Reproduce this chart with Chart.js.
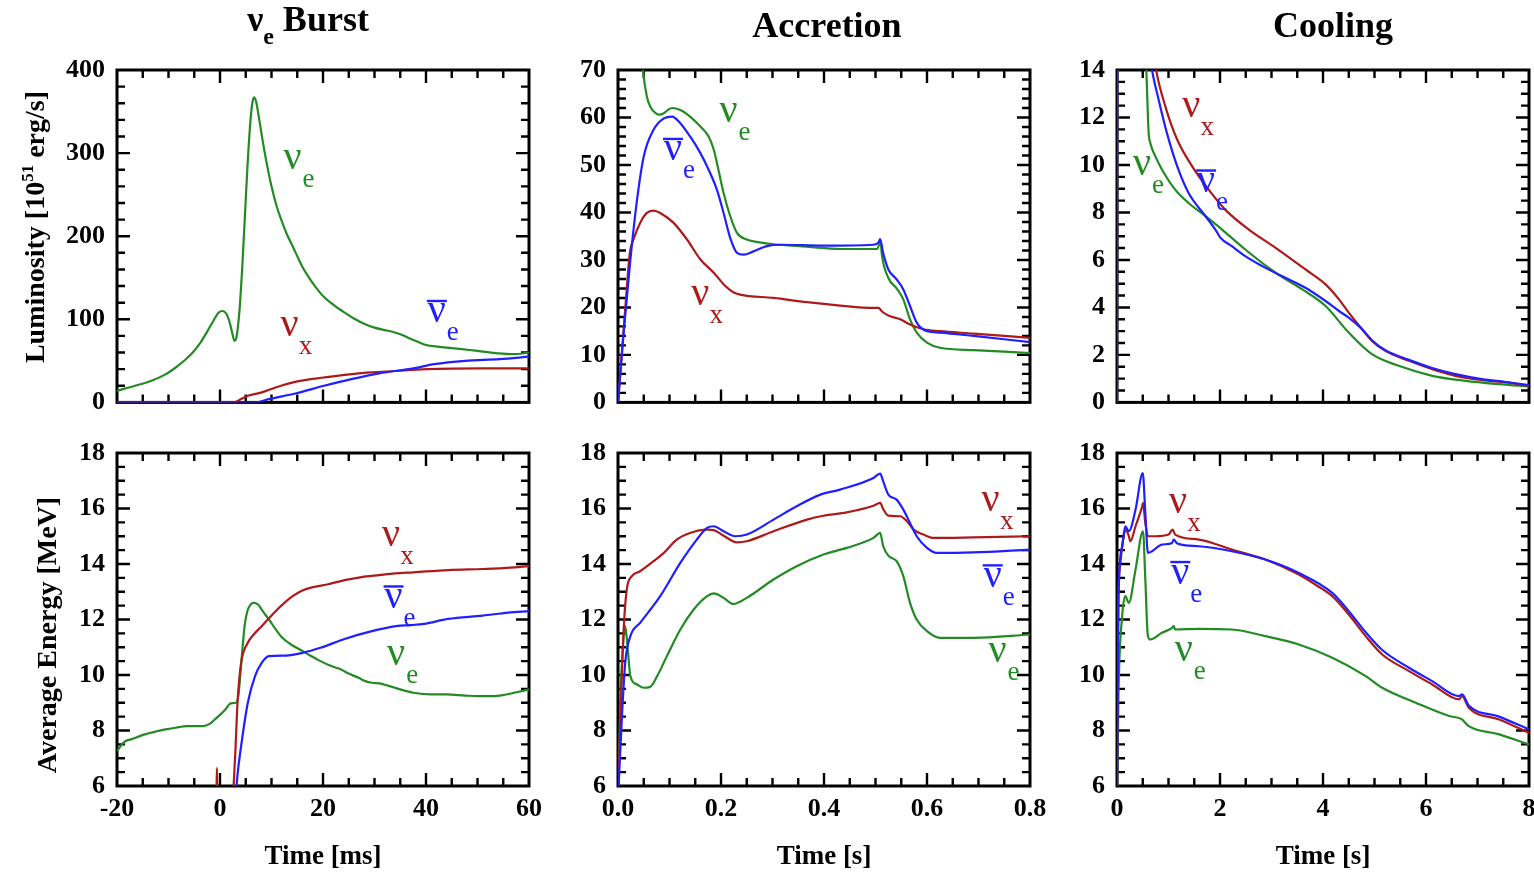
<!DOCTYPE html>
<html>
<head>
<meta charset="utf-8">
<title>Neutrino signal: burst, accretion, cooling</title>
<script src="https://cdn.jsdelivr.net/npm/chart.js@4.4.0/dist/chart.umd.min.js"></script>
<style>
  html, body { margin: 0; padding: 0; background: #fff; overflow: hidden; }
  #wrap { position: relative; width: 1534px; height: 873px; overflow: hidden; }
  #wrap canvas { position: absolute; }
</style>
</head>
<body>
<div id="wrap">
  <canvas id="c-burst-lum" width="560" height="430" style="left:0;top:0"></canvas>
  <canvas id="c-acc-lum"   width="560" height="430" style="left:501px;top:0"></canvas>
  <canvas id="c-cool-lum"  width="560" height="430" style="left:1000px;top:0"></canvas>
  <canvas id="c-burst-en"  width="560" height="448" style="left:0;top:425px"></canvas>
  <canvas id="c-acc-en"    width="560" height="448" style="left:501px;top:425px"></canvas>
  <canvas id="c-cool-en"   width="560" height="448" style="left:1000px;top:425px"></canvas>
</div>
<script>
// six panels: luminosity (top) and mean energy (bottom) for the three phases

const SERIF = '"Liberation Serif", "Times New Roman", serif';
const COLORS = {
  nue:    '#238b23',
  nuebar: '#1f1fff',
  nux:    '#ad1a1a',
  ink:    '#000000',
};

Chart.defaults.font.family = SERIF;
Chart.defaults.color = COLORS.ink;
Chart.defaults.animation = false;

// ---- data: [time, value] pairs ----
// burst phase, time in ms, luminosity in 1e51 erg/s
const burstLumNuE = [[-20,14],[-16.5,20],[-13.3,26],[-10.5,34],[-8.6,42],[-6.8,51],[-5.3,60],[-4,70],[-2.6,84],[-1.3,98],[-0.3,108],[0.5,110],[1.2,107],[1.8,98],[2.4,83],[2.8,74],[3.1,76],[3.5,92],[3.9,120],[4.3,160],[4.8,220],[5.3,280],[5.8,330],[6.2,357],[6.6,367],[7.0,362],[7.5,345],[8.2,318],[9,290],[10,260],[11,236],[12,218],[13,202],[14.1,188],[15,176],[16.1,162],[17.5,148],[18.8,137],[20,128],[21.5,120],[23,113],[24.2,108],[26,101],[28.2,94],[30,90],[32,87],[33.5,85],[35,82],[37.6,75],[40,69],[41,68],[44,66],[47,64],[50,62],[54,59],[57,58],[60,60]];
const burstLumNuX = [[-20,0],[2.6,0],[4.1,4],[5.4,8],[8.1,12],[10.8,18],[14.8,25],[20.2,30],[26.9,35],[32.2,37],[40.2,40],[50.9,41],[60,41]];
const burstLumNuEbar = [[-20,0],[6.8,0],[9.5,4],[14.8,11],[20.2,20],[25.5,28],[30.9,35],[37.6,41],[41.6,46],[47.6,50],[54.3,52],[60,55]];

// accretion phase, time in s
const accLumNuE = [[0.035,92],[0.042,80],[0.0485,70],[0.056,64.4],[0.063,62.2],[0.069,61.3],[0.079,60.6],[0.089,60.9],[0.097,61.6],[0.105,62],[0.121,61.6],[0.14,60.2],[0.16,58.1],[0.176,56],[0.186,53.2],[0.195,49],[0.205,44.1],[0.218,39.2],[0.231,35.7],[0.25,34.3],[0.275,33.7],[0.302,33.3],[0.367,32.8],[0.431,32.3],[0.503,32.3],[0.508,33.5],[0.51,33.9],[0.512,31.4],[0.525,26.2],[0.541,24],[0.554,21.7],[0.567,17.5],[0.58,14.7],[0.6,12.6],[0.625,11.5],[0.69,11],[0.75,10.7],[0.8,10.4]];
const accLumNuEbar = [[0,0],[0.011,14.7],[0.024,30],[0.037,42.7],[0.05,51.8],[0.069,57.4],[0.089,59.8],[0.105,60.2],[0.121,58.8],[0.14,56],[0.16,52.5],[0.176,49],[0.192,44.8],[0.205,39.9],[0.218,34.6],[0.231,31.5],[0.244,31.1],[0.263,31.8],[0.289,32.9],[0.315,33.2],[0.399,33],[0.496,33.2],[0.506,33.7],[0.509,34.4],[0.515,31.4],[0.525,28],[0.541,25.9],[0.554,23.8],[0.567,20.3],[0.58,16.8],[0.6,15],[0.625,14.7],[0.69,14],[0.8,12.7]];
const accLumNuX = [[0,0],[0.008,11.2],[0.014,19.6],[0.023,31.5],[0.03,34.3],[0.043,37.8],[0.056,39.9],[0.069,40.4],[0.082,39.9],[0.108,37.8],[0.134,34.3],[0.16,30.1],[0.186,27.3],[0.205,24.9],[0.224,23.2],[0.237,22.7],[0.302,22],[0.367,21.1],[0.431,20.4],[0.496,19.9],[0.506,19.9],[0.512,19.2],[0.525,18.3],[0.548,17.5],[0.567,16.4],[0.593,15.4],[0.625,15],[0.69,14.5],[0.8,13.6]];

// cooling phase, time in s
const coolLumNuX = [[0,0],[0.02,40],[0.3,24],[0.6,16.5],[0.76,14],[0.94,12.46],[1.17,11.06],[1.46,9.94],[1.78,8.96],[2.1,8.12],[2.56,7.28],[3.08,6.51],[3.66,5.6],[4.05,4.97],[4.31,4.34],[4.5,3.78],[4.76,3.08],[4.95,2.59],[5.21,2.17],[5.67,1.75],[6.12,1.4],[6.57,1.12],[7.09,0.94],[7.55,0.84],[8,0.7]];
const coolLumNuEbar = [[0,0],[0.02,40],[0.3,22],[0.55,16],[0.68,14],[0.81,12.74],[0.97,11.34],[1.17,9.94],[1.39,8.82],[1.72,7.84],[1.91,7.28],[2.01,6.93],[2.23,6.58],[2.49,6.16],[2.82,5.74],[3.2,5.32],[3.66,4.83],[4.05,4.27],[4.31,3.85],[4.5,3.57],[4.76,3.08],[4.95,2.62],[5.21,2.2],[5.67,1.79],[6.12,1.45],[6.57,1.19],[7.09,0.98],[7.55,0.86],[8,0.73]];
const coolLumNuE = [[0,0],[0.02,40],[0.3,24],[0.5,17],[0.57,14],[0.596,12.32],[0.615,11.34],[0.648,10.92],[0.745,10.36],[0.875,9.8],[1.13,8.96],[1.39,8.4],[1.72,7.84],[2.04,7.28],[2.49,6.44],[3.08,5.46],[3.6,4.76],[4.05,4.06],[4.5,2.94],[4.95,2.03],[5.47,1.54],[6.12,1.12],[6.77,0.91],[7.42,0.77],[8,0.67]];

// mean energies in MeV
const burstEnNuE = [[-20,7.26],[-18.5,7.6],[-17.3,7.68],[-14.6,7.86],[-12,7.98],[-10.6,8.04],[-8,8.12],[-6.6,8.16],[-3.3,8.16],[-2,8.24],[-1,8.4],[0.1,8.58],[1,8.75],[2.1,8.98],[3.1,9.0],[3.6,9.3],[3.9,9.9],[4.4,11.04],[4.8,11.8],[5.3,12.3],[6,12.55],[6.4,12.6],[7.4,12.54],[8.3,12.3],[9.5,12.0],[10.8,11.65],[12.1,11.34],[13.8,11.1],[15.5,10.92],[17.5,10.7],[19.5,10.5],[21.5,10.33],[23.5,10.2],[25,10.05],[26.9,9.9],[28.2,9.78],[29.5,9.72],[31,9.7],[32.9,9.6],[35,9.48],[37.6,9.36],[40.9,9.3],[44,9.3],[47.6,9.26],[50,9.24],[53,9.24],[55,9.28],[57.6,9.38],[60,9.48]];
const burstEnNuX = [[-0.7,5.5],[-0.6,6.65],[-0.5,5.5],[1.5,null],[2.5,5.5],[3.0,7.3],[3.4,9],[4.1,10.44],[5.4,11.16],[6.5,11.45],[8.1,11.76],[10.8,12.3],[12.5,12.6],[14.1,12.84],[15.8,13.03],[17.5,13.14],[20.8,13.26],[24.2,13.42],[27.5,13.53],[30.9,13.6],[34,13.66],[37.6,13.7],[44.3,13.78],[51,13.82],[55,13.85],[60,13.92]];
const burstEnNuEbar = [[3.0,5.5],[3.4,6.4],[4.1,7.44],[5.4,9.0],[6.8,9.96],[8.1,10.44],[9.5,10.68],[12.8,10.7],[16.1,10.8],[19.5,10.98],[24.2,11.3],[29.5,11.58],[34.2,11.76],[37,11.8],[39.6,11.84],[44.3,12.02],[51,12.14],[56,12.25],[60,12.3]];

const accEnNuX = [[0,5.5],[0.005,8.64],[0.011,11.64],[0.017,13.08],[0.027,13.56],[0.043,13.74],[0.069,14.1],[0.089,14.4],[0.114,14.88],[0.14,15.12],[0.173,15.24],[0.186,15.22],[0.205,15.02],[0.231,14.78],[0.25,14.82],[0.302,15.18],[0.367,15.6],[0.399,15.74],[0.444,15.86],[0.496,16.1],[0.509,16.2],[0.515,15.98],[0.525,15.74],[0.548,15.72],[0.561,15.54],[0.574,15.24],[0.593,15.06],[0.613,14.94],[0.69,14.96],[0.8,15.0]];
const accEnNuEbar = [[0,5.5],[0.008,8.64],[0.014,10.44],[0.024,11.4],[0.043,11.88],[0.082,12.84],[0.121,14.04],[0.153,14.88],[0.173,15.3],[0.186,15.36],[0.205,15.18],[0.228,15.0],[0.25,15.06],[0.302,15.6],[0.347,16.08],[0.393,16.5],[0.431,16.68],[0.496,17.1],[0.509,17.26],[0.515,16.98],[0.525,16.5],[0.541,16.32],[0.554,15.96],[0.567,15.48],[0.58,15.0],[0.6,14.58],[0.619,14.4],[0.69,14.42],[0.8,14.52]];
const accEnNuE = [[0,5.5],[0.005,9.24],[0.01,11.16],[0.014,11.76],[0.019,10.92],[0.024,9.96],[0.037,9.66],[0.05,9.54],[0.063,9.58],[0.076,9.96],[0.095,10.68],[0.121,11.64],[0.147,12.36],[0.173,12.84],[0.186,12.94],[0.205,12.78],[0.224,12.56],[0.25,12.78],[0.302,13.44],[0.347,13.92],[0.399,14.34],[0.444,14.58],[0.496,14.94],[0.509,15.12],[0.515,14.64],[0.525,14.3],[0.541,14.1],[0.554,13.56],[0.567,12.6],[0.58,12.0],[0.6,11.58],[0.625,11.34],[0.69,11.34],[0.8,11.46]];

const coolEnNuX = [[0,5.5],[0.02,12.24],[0.065,14.04],[0.13,15.0],[0.175,15.24],[0.23,15.0],[0.26,14.82],[0.36,15.36],[0.49,16.08],[0.505,16.2],[0.55,15.48],[0.6,15.0],[0.74,15.0],[1.0,15.06],[1.08,15.24],[1.13,15.06],[1.59,14.88],[2.23,14.52],[2.88,14.16],[3.53,13.62],[3.85,13.26],[4.18,12.84],[4.5,12.18],[4.83,11.4],[5.15,10.74],[5.67,10.14],[6.12,9.66],[6.64,9.12],[6.7,9.24],[6.83,8.82],[7.42,8.4],[8.0,7.92]];
const coolEnNuEbar = [[0,5.5],[0.03,12.84],[0.1,14.64],[0.16,15.36],[0.23,15.18],[0.36,15.96],[0.5,17.28],[0.55,15.84],[0.6,14.4],[0.68,14.46],[0.87,14.7],[1.07,14.76],[1.1,14.88],[1.17,14.74],[1.59,14.64],[2.23,14.46],[2.88,14.16],[3.53,13.68],[4.18,12.96],[4.5,12.3],[4.83,11.54],[5.15,10.9],[5.67,10.26],[6.12,9.78],[6.64,9.24],[6.7,9.3],[6.83,8.9],[7.42,8.5],[8.0,8.04]];
const coolEnNuE = [[0,5.5],[0.03,9.48],[0.1,12.12],[0.16,12.84],[0.23,12.6],[0.36,13.8],[0.505,15.18],[0.55,13.44],[0.6,11.4],[0.65,11.28],[0.87,11.52],[1.07,11.7],[1.1,11.76],[1.13,11.64],[1.59,11.66],[2.23,11.64],[2.88,11.4],[3.53,11.1],[4.18,10.62],[4.83,9.96],[5.15,9.54],[5.8,9.0],[6.45,8.52],[6.7,8.4],[6.73,8.34],[6.83,8.16],[7.42,7.86],[8.0,7.5]];

// axis ranges: [min, max, label step, minor step]
const burstTimeAxis = [-20, 60, 20, 5];
const accTimeAxis   = [0, 0.8, 0.2, 0.05];
const coolTimeAxis  = [0, 8, 2, 0.5];
const burstLumAxis  = [0, 400, 100, 20];
const accLumAxis    = [0, 70, 10, 2];
const coolLumAxis   = [0, 14, 2, 0.5];
const energyAxis    = [6, 18, 2, 0.5];

// ---- drawing helpers ----
function font(size, bold) {
  return (bold ? 'bold ' : '') + size + 'px ' + SERIF;
}

// text runs laid out left to right from (x, baseline y); each run may shift up/down
function drawRuns(ctx, runs, x, y) {
  runs.forEach(r => {
    ctx.font = font(r.size, r.bold);
    ctx.fillText(r.text, x, y + (r.dy || 0));
    x += ctx.measureText(r.text).width;
  });
}
function runsWidth(ctx, runs) {
  return runs.reduce((w, r) => { ctx.font = font(r.size, r.bold); return w + ctx.measureText(r.text).width; }, 0);
}

// mirrored inward tick marks on all four sides plus the frame (under the curves)
function frameTicks(xAxis, yAxis) {
  const run = (scale, major, minor, draw) => {
    const n = Math.round((scale.max - scale.min) / minor);
    for (let i = 1; i < n; i++) {
      const v = scale.min + i * minor;
      const r = v / major;
      draw(scale.getPixelForValue(v), Math.abs(r - Math.round(r)) < 1e-6 ? 13 : 8);
    }
  };
  return {
    id: 'frameTicks',
    beforeDatasetsDraw(chart) {
      const { ctx, chartArea: a, scales: { x, y } } = chart;
      ctx.save();
      ctx.strokeStyle = COLORS.ink;
      ctx.lineWidth = 2.4;
      ctx.beginPath();
      run(x, xAxis[2], xAxis[3], (p, len) => {
        ctx.moveTo(p, a.bottom); ctx.lineTo(p, a.bottom - len);
        ctx.moveTo(p, a.top);    ctx.lineTo(p, a.top + len);
      });
      run(y, yAxis[2], yAxis[3], (p, len) => {
        ctx.moveTo(a.left, p);  ctx.lineTo(a.left + len, p);
        ctx.moveTo(a.right, p); ctx.lineTo(a.right - len, p);
      });
      ctx.stroke();
      ctx.lineWidth = 3;
      ctx.strokeRect(a.left, a.top, a.right - a.left, a.bottom - a.top);
      ctx.restore();
    }
  };
}

// panel title, rotated y title and the curve labels (nu with subscript)
function textLayer(opts) {
  return {
    id: 'textLayer',
    afterDraw(chart) {
      const { ctx, chartArea: a, scales: { x, y } } = chart;
      ctx.save();
      ctx.textAlign = 'left';
      ctx.textBaseline = 'alphabetic';
      ctx.fillStyle = COLORS.ink;

      if (opts.title) {
        const t = opts.title;
        const w = runsWidth(ctx, t.runs);
        drawRuns(ctx, t.runs, (a.left + a.right) / 2 + t.dx - w / 2, t.baseline);
      }
      if (opts.yTitle) {
        const t = opts.yTitle;
        const w = runsWidth(ctx, t.runs);
        ctx.save();
        ctx.translate(t.x, t.cy);
        ctx.rotate(-Math.PI / 2);
        drawRuns(ctx, t.runs, -w / 2, 0);
        ctx.restore();
      }
      (opts.labels || []).forEach(l => {
        const px = x.getPixelForValue(l.t);
        const py = y.getPixelForValue(l.v);
        ctx.fillStyle = l.color;
        ctx.strokeStyle = l.color;
        ctx.textAlign = 'center';
        ctx.font = font(40, false);
        ctx.fillText('\u03BD', px, py + 9);
        ctx.font = font(27, false);
        ctx.fillText(l.sub, px + 16, py + 27);
        if (l.bar) {
          ctx.lineWidth = 2.4;
          ctx.beginPath();
          ctx.moveTo(px - 10, py - 12.5);
          ctx.lineTo(px + 10, py - 12.5);
          ctx.stroke();
        }
      });
      ctx.restore();
    }
  };
}

function buildPanel(id, p) {
  const el = document.getElementById(id);
  const tickFont = { family: SERIF, size: 26, weight: 'bold' };
  return new Chart(el.getContext('2d'), {
    type: 'line',
    data: {
      datasets: p.series.map(s => ({
        data: s.data,
        borderColor: s.color,
        borderWidth: 2.2,
        pointRadius: 0,
        fill: false,
        spanGaps: false,
        cubicInterpolationMode: 'monotone',
      }))
    },
    options: {
      responsive: false,
      devicePixelRatio: 1,
      animation: false,
      events: [],
      layout: { padding: { left: 0, right: 31, top: p.top ? 70 : 28, bottom: p.top ? 27 : 0 } },
      plugins: { legend: { display: false }, tooltip: { enabled: false } },
      scales: {
        x: {
          type: 'linear',
          min: p.xAxis[0], max: p.xAxis[1],
          grid: { display: false, drawTicks: false },
          border: { display: false },
          ticks: {
            display: !p.top,
            stepSize: p.xAxis[2],
            font: tickFont, color: COLORS.ink, padding: 8, maxRotation: 0,
            callback: p.xFmt || (v => v),
          },
          title: {
            display: !p.top, text: p.xTitle || '',
            font: { family: SERIF, size: 27, weight: 'bold' }, color: COLORS.ink,
            padding: { top: 0, bottom: 0 },
          },
          afterFit: s => { s.height = p.top ? 0 : 87; },
        },
        y: {
          type: 'linear',
          min: p.yAxis[0], max: p.yAxis[1],
          grid: { display: false, drawTicks: false },
          border: { display: false },
          ticks: { stepSize: p.yAxis[2], font: tickFont, color: COLORS.ink, padding: 12 },
          afterFit: s => { s.width = 117; },
        }
      }
    },
    plugins: [frameTicks(p.xAxis, p.yAxis), textLayer(p.text)]
  });
}

// datasets listed blue, red, green so green is painted first
function series(nuebar, nux, nue) {
  return [
    { data: nuebar, color: COLORS.nuebar },
    { data: nux,    color: COLORS.nux },
    { data: nue,    color: COLORS.nue },
  ];
}
const lbl = (t, v, kind) => ({
  t, v,
  color: kind === 'x' ? COLORS.nux : (kind === 'ebar' ? COLORS.nuebar : COLORS.nue),
  sub: kind === 'x' ? 'x' : 'e',
  bar: kind === 'ebar',
});

// =========================================================
// TOP ROW — luminosity
// =========================================================
buildPanel('c-burst-lum', {
  top: true, xAxis: burstTimeAxis, yAxis: burstLumAxis,
  series: series(burstLumNuEbar, burstLumNuX, burstLumNuE),
  text: {
    title: { dx: -15, baseline: 31, runs: [
      { text: '\u03BD', size: 36, bold: true },
      { text: 'e', size: 24, bold: true, dy: 13 },
      { text: ' Burst', size: 36, bold: true },
    ] },
    yTitle: { x: 44, cy: 227, runs: [
      { text: 'Luminosity [10', size: 28, bold: true },
      { text: '51', size: 17, bold: true, dy: -11 },
      { text: ' erg/s]', size: 28, bold: true },
    ] },
    labels: [lbl(14.1, 292, 'e'), lbl(13.5, 91, 'x'), lbl(42.1, 107, 'ebar')],
  }
});

buildPanel('c-acc-lum', {
  top: true, xAxis: accTimeAxis, yAxis: accLumAxis,
  series: series(accLumNuEbar, accLumNuX, accLumNuE),
  text: {
    title: { dx: 3, baseline: 37, runs: [{ text: 'Accretion', size: 36, bold: true }] },
    labels: [lbl(0.2147, 60.9, 'e'), lbl(0.1067, 52.85, 'ebar'), lbl(0.1597, 22.4, 'x')],
  }
});

buildPanel('c-cool-lum', {
  top: true, xAxis: coolTimeAxis, yAxis: coolLumAxis,
  series: series(coolLumNuEbar, coolLumNuX, coolLumNuE),
  text: {
    title: { dx: 10, baseline: 37, runs: [{ text: 'Cooling', size: 36, bold: true }] },
    labels: [lbl(1.444, 12.39, 'x'), lbl(0.486, 9.97, 'e'), lbl(1.73, 9.24, 'ebar')],
  }
});

// =========================================================
// BOTTOM ROW — average energy
// =========================================================
buildPanel('c-burst-en', {
  top: false, xAxis: burstTimeAxis, yAxis: energyAxis, xTitle: 'Time [ms]',
  series: series(burstEnNuEbar, burstEnNuX, burstEnNuE),
  text: {
    yTitle: { x: 56, cy: 210, runs: [{ text: 'Average Energy [MeV]', size: 28, bold: true }] },
    labels: [lbl(33.2, 14.98, 'x'), lbl(33.7, 12.74, 'ebar'), lbl(34.2, 10.7, 'e')],
  }
});

buildPanel('c-acc-en', {
  top: false, xAxis: accTimeAxis, yAxis: energyAxis, xTitle: 'Time [s]',
  xFmt: v => Number(v).toFixed(1),
  series: series(accEnNuEbar, accEnNuX, accEnNuE),
  text: {
    labels: [lbl(0.7236, 16.22, 'x'), lbl(0.7276, 13.5, 'ebar'), lbl(0.737, 10.78, 'e')],
  }
});

buildPanel('c-cool-en', {
  top: false, xAxis: coolTimeAxis, yAxis: energyAxis, xTitle: 'Time [s]',
  series: series(coolEnNuEbar, coolEnNuX, coolEnNuE),
  text: {
    labels: [lbl(1.185, 16.18, 'x'), lbl(1.23, 13.62, 'ebar'), lbl(1.296, 10.82, 'e')],
  }
});
</script>
</body>
</html>
